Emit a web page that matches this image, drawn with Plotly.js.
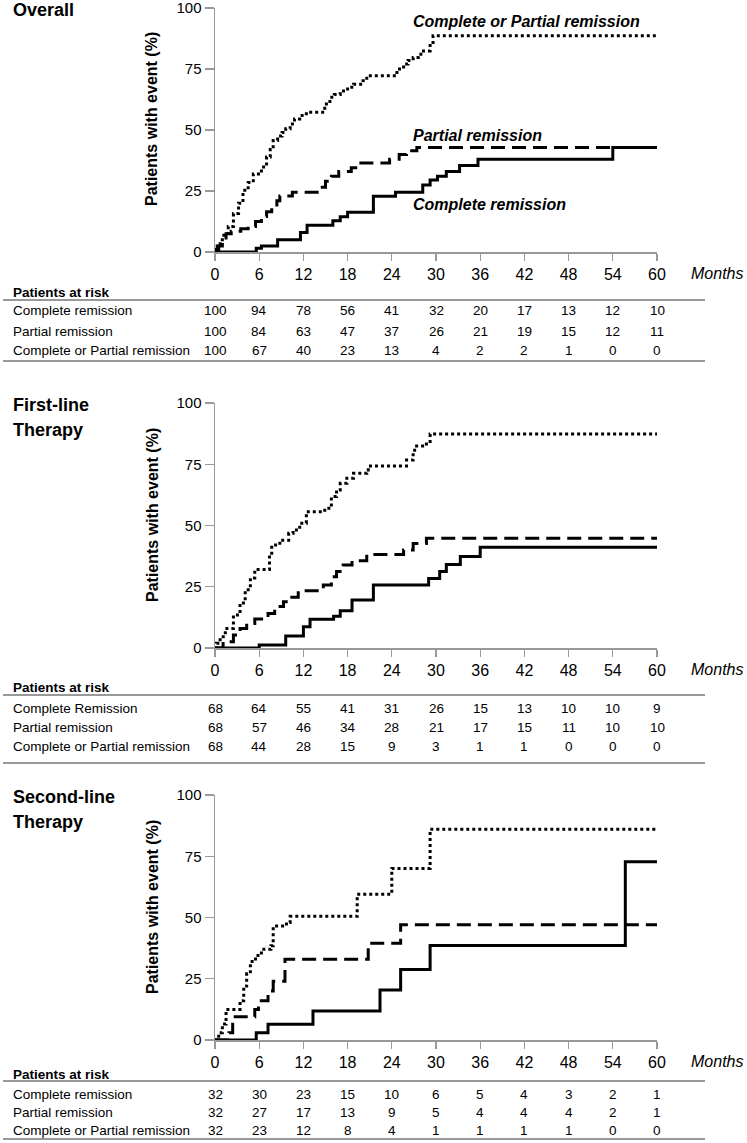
<!DOCTYPE html>
<html>
<head>
<meta charset="utf-8">
<script src="https://cdn.plot.ly/plotly-3.0.1.min.js"></script>
<style>html,body{margin:0;padding:0;background:#fff;}#chart{width:747px;height:1143px;}</style>
</head>
<body>
<div id="chart"></div>
<script>
// ---------- data ----------
const panelTitles = [["Overall"], ["First-line", "Therapy"], ["Second-line", "Therapy"]];
const seriesNames = ["Complete remission", "Partial remission", "Complete or Partial remission"];
const monthTicks = [0, 6, 12, 18, 24, 30, 36, 42, 48, 54, 60];
const pctTicks = [0, 25, 50, 75, 100];

// Overall
const overallCR_t = [0, 5.6, 6.3, 8.5, 11.6, 12.5, 16, 17, 18, 21.5, 24.5, 28.2, 29.2, 30.2, 31.4, 33.2, 35.7, 54, 60];
const overallCR_v = [0, 1.5, 2.5, 5, 8, 11, 12.8, 14.4, 16.3, 22.8, 24.5, 27.5, 29.5, 31, 33, 35.5, 38, 42.8, 42.8];
const overallPR_t = [0, 0.5, 1, 1.5, 2.2, 3.5, 4.5, 5.5, 6.3, 7, 7.7, 8.4, 8.8, 10.5, 14.2, 15, 15.8, 16.8, 18.5, 19.5, 23.7, 25, 26, 27.4, 60];
const overallPR_v = [1, 2.5, 5, 7.5, 8.5, 9.5, 10.5, 12.5, 14.5, 16.5, 18.5, 21, 23, 24.5, 26.5, 29, 31, 33, 34.5, 36.5, 38, 40, 41.5, 42.8, 42.8];
const overallCPR_t = [0, 0.3, 0.7, 1.2, 1.8, 2.5, 3.2, 3.8, 4.5, 5.2, 6.3, 7, 7.5, 7.9, 8.5, 9.1, 9.6, 10.2, 10.8, 11.5, 12.4, 14.9, 15.6, 16.2, 17, 18, 18.8, 20.1, 20.6, 24.7, 25.6, 26.2, 26.9, 27.6, 28.3, 29.2, 29.6, 60];
const overallCPR_v = [0, 2.5, 5, 7.6, 10.5, 15.8, 20, 25.3, 28.5, 32, 34.8, 38.9, 42, 45.7, 47.5, 49, 50.5, 52.5, 54.5, 55.9, 57.3, 60.7, 63.4, 64.5, 66, 67.5, 68.8, 70.2, 72.2, 75, 77, 78.5, 79.7, 81, 82.4, 85.2, 88.6, 88.6];

// First-line
const firstCR_t = [0, 6, 9.6, 12, 12.9, 16.1, 17, 18.6, 21.5, 29, 30.5, 31.4, 33.3, 36, 60];
const firstCR_v = [0, 1.2, 4.9, 8.7, 11.7, 13, 15.2, 19.6, 25.7, 28.4, 31.2, 34.1, 37.3, 41.1, 41.1];
const firstPR_t = [0, 1.1, 2.5, 3.4, 4.3, 5.4, 7.2, 8.1, 9.3, 10.2, 11.3, 14.7, 15.8, 16.5, 17.4, 18.6, 20.6, 25.6, 26.9, 28.7, 60];
const firstPR_v = [0, 2.6, 5.3, 8, 10, 11.8, 14.1, 16.9, 18.9, 20.7, 23.4, 25.7, 29.1, 31.2, 33.9, 35.6, 38.2, 40, 42.7, 44.8, 44.8];
const firstCPR_t = [0, 0.2, 0.7, 1.4, 2.5, 3.4, 4.1, 4.8, 5.4, 7.4, 7.7, 8.8, 10, 10.6, 11.5, 12.4, 14.9, 15.8, 16.5, 17, 17.9, 18.8, 20.6, 20.8, 26, 26.9, 27.1, 28.7, 29.2, 60];
const firstCPR_v = [0, 1.9, 4.6, 8, 13.5, 18.4, 23.8, 28.6, 32, 38, 42, 44, 46.8, 48.2, 50.9, 55.6, 57, 61.8, 64.5, 67.2, 69.3, 71.3, 72.7, 74.3, 76.7, 80.1, 82.4, 83.3, 87.3, 87.3];

// Second-line
const secondCR_t = [0, 5.6, 7.2, 13.3, 22.4, 25.2, 29.2, 55.7, 60];
const secondCR_v = [0, 3, 6.4, 11.8, 20.4, 28.8, 38.6, 72.8, 72.8];
const secondPR_t = [0, 1.9, 2.4, 5.4, 5.9, 7.2, 7.9, 9.5, 20.8, 25.2, 60];
const secondPR_v = [0, 3, 9.5, 12.5, 16, 20, 24, 33, 39.5, 47, 47];
const secondCPR_t = [0, 0.5, 1, 1.5, 3.4, 3.9, 4.3, 4.8, 5.5, 6.3, 7.6, 7.9, 9.7, 10.2, 19.3, 24, 29.2, 60];
const secondCPR_v = [0, 3, 6.5, 12.5, 16, 22, 27, 32, 34.5, 37, 38.5, 46.5, 48, 50.5, 59.5, 70, 86, 86];

// Patients at risk
const riskLabels = [
  ["Complete remission", "Partial remission", "Complete or Partial remission"],
  ["Complete Remission", "Partial remission", "Complete or Partial remission"],
  ["Complete remission", "Partial remission", "Complete or Partial remission"]
];
const overallRisk = [
  [100, 94, 78, 56, 41, 32, 20, 17, 13, 12, 10],
  [100, 84, 63, 47, 37, 26, 21, 19, 15, 12, 11],
  [100, 67, 40, 23, 13, 4, 2, 2, 1, 0, 0]
];
const firstRisk = [
  [68, 64, 55, 41, 31, 26, 15, 13, 10, 10, 9],
  [68, 57, 46, 34, 28, 21, 17, 15, 11, 10, 10],
  [68, 44, 28, 15, 9, 3, 1, 1, 0, 0, 0]
];
const secondRisk = [
  [32, 30, 23, 15, 10, 6, 5, 4, 3, 2, 1],
  [32, 27, 17, 13, 9, 5, 4, 4, 4, 2, 1],
  [32, 23, 12, 8, 4, 1, 1, 1, 1, 0, 0]
];

// ---------- layout helpers ----------
const W = 747, H = 1143;
const px = x => x / W;
const py = y => 1 - y / H;
const FONT = "Liberation Sans, Arial, sans-serif";

const panelData = [
  {t: [overallCR_t, overallPR_t, overallCPR_t], v: [overallCR_v, overallPR_v, overallCPR_v], risk: overallRisk},
  {t: [firstCR_t, firstPR_t, firstCPR_t], v: [firstCR_v, firstPR_v, firstCPR_v], risk: firstRisk},
  {t: [secondCR_t, secondPR_t, secondCPR_t], v: [secondCR_v, secondPR_v, secondCPR_v], risk: secondRisk}
];
// pixel geometry per panel
const geom = [
  {top: 8, zero: 252, title: [10], ytitle: 119, par: 292, line1: 300, rows: [311, 331, 350], line2: 361},
  {top: 403, zero: 648, title: [405, 430], ytitle: 515, par: 687, line1: 695, rows: [708, 727, 746], line2: 763},
  {top: 795, zero: 1040, title: [797, 822], ytitle: 907, par: 1074, line1: 1081, rows: [1094, 1112, 1130], line2: 1139}
];
const styles = [
  {color: "#000", width: 3, dash: "solid"},
  {color: "#000", width: 3, dash: "14px,7px"},
  {color: "#000", width: 3, dash: "3px,3px"}
];
const YMIN = -1.2;

const traces = [];
const layout = {
  width: W, height: H,
  margin: {l: 0, r: 0, t: 0, b: 0},
  paper_bgcolor: "#fff", plot_bgcolor: "rgba(0,0,0,0)",
  showlegend: false,
  font: {family: FONT, color: "#000"},
  annotations: [], shapes: []
};

panelData.forEach((p, i) => {
  const g = geom[i];
  const n = i === 0 ? "" : String(i + 1);
  const xa = "xaxis" + n, ya = "yaxis" + n;
  const pxPerUnit = (g.zero - g.top) / 100;
  const bottom = g.zero - YMIN * pxPerUnit;
  layout[xa] = {
    domain: [px(215), px(657)], range: [0, 60],
    anchor: "free", position: py(g.zero),
    tickvals: monthTicks, ticktext: monthTicks.map(String),
    ticks: "outside", ticklen: 7, tickwidth: 1.2, tickcolor: "#999",
    showline: true, linecolor: "#999", linewidth: 1.5,
    showgrid: false, zeroline: false, fixedrange: true,
    ticklabeloverflow: "allow",
    tickfont: {size: 16, family: FONT, color: "#000"}
  };
  layout[ya] = {
    domain: [py(bottom), py(g.top)], range: [YMIN, 100],
    anchor: "x" + n,
    tickvals: pctTicks, ticktext: pctTicks.map(String),
    ticks: "outside", ticklen: 9, tickwidth: 1.2, tickcolor: "#999",
    showline: true, linecolor: "#999", linewidth: 1.5,
    showgrid: false, zeroline: false, fixedrange: true,
    ticklabeloverflow: "allow",
    tickfont: {size: 15, family: FONT, color: "#000"}
  };
  // curves
  for (let s = 0; s < 3; s++) {
    traces.push({
      x: p.t[s], y: p.v[s], type: "scatter", mode: "lines",
      name: seriesNames[s], xaxis: "x" + n, yaxis: "y" + n,
      line: {shape: "hv", color: styles[s].color, width: styles[s].width, dash: styles[s].dash},
      hoverinfo: "skip"
    });
  }
  // panel title
  panelTitles[i].forEach((t, k) => {
    layout.annotations.push({
      text: "<b>" + t + "</b>", xref: "paper", yref: "paper",
      x: px(11), y: py(g.title[k]), xanchor: "left", yanchor: "middle",
      showarrow: false, font: {size: 18, family: FONT, color: "#000"}
    });
  });
  // y-axis title
  layout.annotations.push({
    text: "<b>Patients with event (%)</b>", xref: "paper", yref: "paper",
    x: px(152), y: py(g.ytitle), xanchor: "center", yanchor: "middle",
    textangle: -90, showarrow: false, font: {size: 16, family: FONT, color: "#000"}
  });
  // Months label
  layout.annotations.push({
    text: "<i>Months</i>", xref: "paper", yref: "paper",
    x: px(689), y: py(g.zero + 21), xanchor: "left", yanchor: "middle",
    showarrow: false, font: {size: 16, family: FONT, color: "#000"}
  });
  // Patients at risk
  layout.annotations.push({
    text: "<b>Patients at risk</b>", xref: "paper", yref: "paper",
    x: px(11), y: py(g.par), xanchor: "left", yanchor: "middle",
    showarrow: false, font: {size: 13.5, family: FONT, color: "#000"}
  });
  [g.line1, g.line2].forEach(ly => {
    layout.shapes.push({type: "line", xref: "paper", yref: "paper",
      x0: px(3), x1: px(705), y0: py(ly), y1: py(ly),
      line: {color: "#999", width: 2}});
  });
  for (let r = 0; r < 3; r++) {
    layout.annotations.push({
      text: riskLabels[i][r], xref: "paper", yref: "paper",
      x: px(11), y: py(g.rows[r]), xanchor: "left", yanchor: "middle",
      showarrow: false, font: {size: 13.5, family: FONT, color: "#000"}
    });
    p.risk[r].forEach((val, j) => {
      layout.annotations.push({
        text: String(val), xref: "x" + n, yref: "paper",
        x: monthTicks[j], y: py(g.rows[r]), xanchor: "center", yanchor: "middle",
        showarrow: false, font: {size: 13.5, family: FONT, color: "#000"}
      });
    });
  }
});

// series labels in the Overall panel
const seriesLabelPos = [[411, 205], [411, 135], [411, 22]];
for (let s = 0; s < 3; s++) {
  layout.annotations.push({
    text: "<b><i>" + seriesNames[s] + "</i></b>", xref: "paper", yref: "paper",
    x: px(seriesLabelPos[s][0]), y: py(seriesLabelPos[s][1]), xanchor: "left", yanchor: "middle",
    showarrow: false, font: {size: 16, family: FONT, color: "#000"}
  });
}

Plotly.newPlot("chart", traces, layout, {staticPlot: true, displayModeBar: false});
</script>
</body>
</html>
